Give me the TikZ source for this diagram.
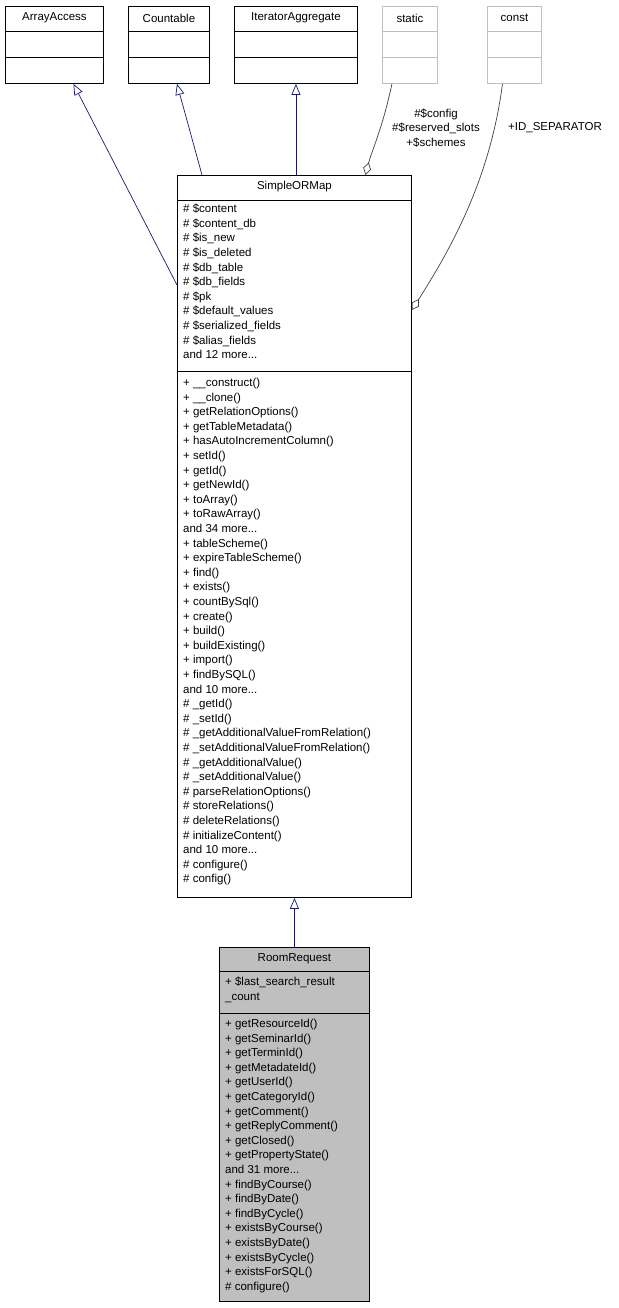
\documentclass[tikz,border=0pt]{standalone}
\usepackage{fontspec}
\setmainfont{Liberation Sans}
\usetikzlibrary{arrows.meta,positioning}
\definecolor{edgeblue}{HTML}{191970}
\definecolor{edgegray}{HTML}{404040}
\definecolor{boxgray}{HTML}{BFBFBF}
\tikzset{
  every node/.append style={font=\fontsize{11.5}{14.6}\selectfont},
  umlbox/.style={draw, line width=0.9pt, fill=white, inner sep=0pt, anchor=north west},
  ghostbox/.style={umlbox, draw=boxgray},
  members/.style={anchor=north west, align=left, inner sep=0pt},
  inherit/.style={-{Triangle[open,length=11pt,width=9pt]}, edgeblue, line width=0.7pt},
  aggr/.style={-{Diamond[open,length=13pt,width=8pt]}, edgegray, line width=0.7pt},
}
\begin{document}
\begin{tikzpicture}[x=1pt, y=-1pt]
\useasboundingbox (0,0) rectangle (618,1308);

% ============= interfaces =============
\node[umlbox, minimum width=98pt, minimum height=77pt] (arrayaccess) at (5,6) {};
\node[umlbox, minimum width=81pt, minimum height=77pt] (countable) at (128,6) {};
\node[umlbox, minimum width=123pt, minimum height=77pt] (iteratoraggregate) at (234,6) {};
\node[ghostbox, minimum width=55pt, minimum height=77pt] (static) at (382,6) {};
\node[ghostbox, minimum width=54pt, minimum height=77pt] (const) at (487,6) {};
\foreach \b in {arrayaccess,countable,iteratoraggregate}{
  \draw[line width=0.9pt] (\b.west |- 0,31) -- (\b.east |- 0,31);
  \draw[line width=0.9pt] (\b.west |- 0,57) -- (\b.east |- 0,57);
}
\foreach \b in {static,const}{
  \draw[line width=0.9pt, boxgray] (\b.west |- 0,31) -- (\b.east |- 0,31);
  \draw[line width=0.9pt, boxgray] (\b.west |- 0,57) -- (\b.east |- 0,57);
}
\node at (arrayaccess.north |- 0,18) {ArrayAccess};
\node at (countable.north |- 0,18) {Countable};
\node at (iteratoraggregate.north |- 0,18) {IteratorAggregate};
\node at (static.north |- 0,18) {static};
\node at (const.north |- 0,18) {const};

% ============= SimpleORMap =============
\node[umlbox, minimum width=234pt, minimum height=722pt] (simpleormap) at (177,175) {};
\draw[line width=0.9pt] (simpleormap.west |- 0,200) -- (simpleormap.east |- 0,200);
\draw[line width=0.9pt] (simpleormap.west |- 0,371) -- (simpleormap.east |- 0,371);
\node at (simpleormap.north |- 0,187) {SimpleORMap};
\node[members] (ormattrs) at (183,204) {\# \$content\\\# \$content\_db\\\# \$is\_new\\\# \$is\_deleted\\\# \$db\_table\\\# \$db\_fields\\\# \$pk\\\# \$default\_values\\\# \$serialized\_fields\\\# \$alias\_fields\\and 12 more...};
\node[members] (ormmethods) at (183,378) {+ \_\_construct()\\+ \_\_clone()\\+ getRelationOptions()\\+ getTableMetadata()\\+ hasAutoIncrementColumn()\\+ setId()\\+ getId()\\+ getNewId()\\+ toArray()\\+ toRawArray()\\and 34 more...\\+ tableScheme()\\+ expireTableScheme()\\+ find()\\+ exists()\\+ countBySql()\\+ create()\\+ build()\\+ buildExisting()\\+ import()\\+ findBySQL()\\and 10 more...\\\# \_getId()\\\# \_setId()\\\# \_getAdditionalValueFromRelation()\\\# \_setAdditionalValueFromRelation()\\\# \_getAdditionalValue()\\\# \_setAdditionalValue()\\\# parseRelationOptions()\\\# storeRelations()\\\# deleteRelations()\\\# initializeContent()\\and 10 more...\\\# configure()\\\# config()};

% ============= RoomRequest =============
\node[umlbox, fill=boxgray, minimum width=150pt, minimum height=354pt] (roomrequest) at (219,947) {};
\draw[line width=0.9pt] (roomrequest.west |- 0,971) -- (roomrequest.east |- 0,971);
\draw[line width=0.9pt] (roomrequest.west |- 0,1013) -- (roomrequest.east |- 0,1013);
\node at (roomrequest.north |- 0,959) {RoomRequest};
\node[members] (rrattrs) at (225,977) {+ \$last\_search\_result\\\_count};
\node[members] (rrmethods) at (225,1019) {+ getResourceId()\\+ getSeminarId()\\+ getTerminId()\\+ getMetadateId()\\+ getUserId()\\+ getCategoryId()\\+ getComment()\\+ getReplyComment()\\+ getClosed()\\+ getPropertyState()\\and 31 more...\\+ findByCourse()\\+ findByDate()\\+ findByCycle()\\+ existsByCourse()\\+ existsByDate()\\+ existsByCycle()\\+ existsForSQL()\\\# configure()};

% ============= connectors =============
\draw[inherit] ([yshift=-110pt]simpleormap.north west) -- ([xshift=19pt]arrayaccess.south);
\draw[inherit] ([xshift=25pt]simpleormap.north west) -- ([xshift=8pt]countable.south);
\draw[inherit] (iteratoraggregate.south |- simpleormap.north) -- (iteratoraggregate.south);
\draw[inherit] (roomrequest.north) -- (roomrequest.north |- simpleormap.south);
\coordinate (staticfoot) at ([xshift=-18pt]static.south);
\coordinate (constfoot) at ([xshift=-12pt]const.south);
\draw[aggr] (staticfoot) .. controls (382,130) and (372,150) .. ([xshift=71pt]simpleormap.north);
\draw[aggr] (constfoot) .. controls (490,180) and (450,250) .. ([yshift=-135pt]simpleormap.north east);

% ============= edge labels =============
\node[align=center] (staticlbl) at (436,128) {\#\$config\\\#\$reserved\_slots\\+\$schemes};
\node (constlbl) at (555,128) {+ID\_SEPARATOR};
\end{tikzpicture}
\end{document}
